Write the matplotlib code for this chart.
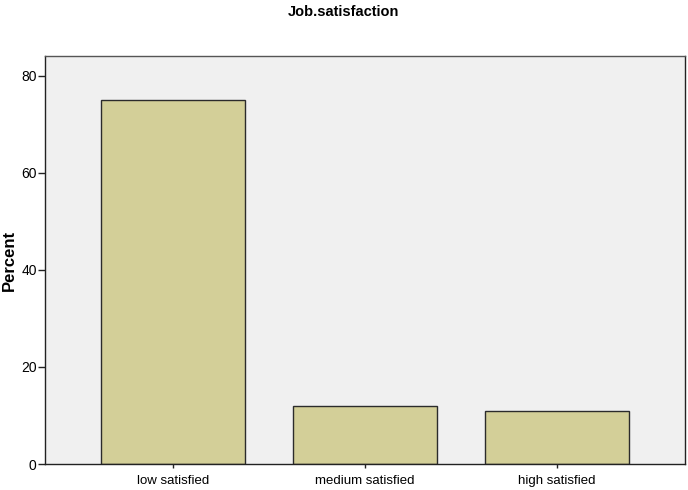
import matplotlib
matplotlib.use("Agg")
import matplotlib.pyplot as plt

plt.rcParams["font.family"] = ["Liberation Sans", "DejaVu Sans"]

# ── 데이터 ─────────────────────────────────────
categories = ["low satisfied", "medium satisfied", "high satisfied"]
percent = [75, 12, 11]
yticks = [0, 20, 40, 60, 80]

fig = plt.figure(figsize=(6.88, 4.90), dpi=100)
ax = fig.add_axes([45 / 688, 26 / 490, 640 / 688, 408 / 490])
ax.set_facecolor("#F0F0F0")

x_pos = range(len(categories))
ax.bar(x_pos, percent, width=0.75, color="#D3CF98",
       edgecolor="#2b2b2b", linewidth=1.0, zorder=2)

ax.set_xlim(-0.667, 2.667)
ax.set_ylim(0, 84.1)
ax.set_xticks(list(x_pos))
ax.set_xticklabels(categories, fontsize=9.5)
ax.set_yticks(yticks)
ax.set_yticklabels([str(t) for t in yticks], fontsize=10)
ax.tick_params(axis="x", direction="out", length=3, width=1, color="#222222", pad=5)
ax.tick_params(axis="y", direction="out", length=5, width=1, color="#222222", pad=1)
ax.tick_params(top=False, right=False)

for side in ["left", "bottom", "right"]:
    ax.spines[side].set_color("#222222")
    ax.spines[side].set_linewidth(1.0)
ax.spines["top"].set_color("#555555")
ax.spines["top"].set_linewidth(1.0)

# y축 라벨은 왼쪽 끝에 직접 배치
fig.text(9 / 688, 1 - 260 / 490, "Percent", rotation=90, ha="center", va="center",
         fontsize=12, fontweight="bold")
fig.text(0.5, 1 - 12 / 490, "Job.satisfaction", ha="center", va="center",
         fontsize=10.5, fontweight="bold")

plt.savefig("out.png", dpi=100)
plt.close()
